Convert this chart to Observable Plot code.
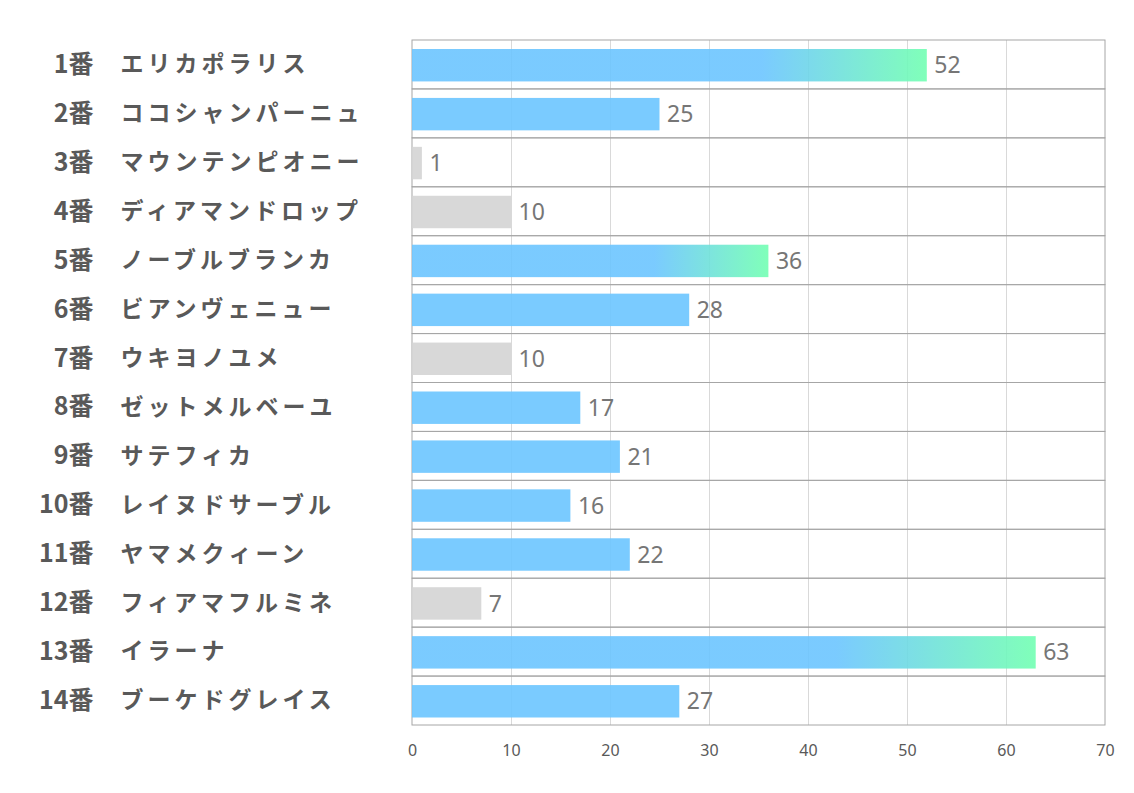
<!DOCTYPE html>
<html>
<head>
<meta charset="utf-8">
<script src="https://cdn.jsdelivr.net/npm/d3@7"></script>
<script src="https://cdn.jsdelivr.net/npm/@observablehq/plot@0.6"></script>
<style>
  html, body { margin: 0; padding: 0; background: #fff; }
</style>
</head>
<body>
<div id="chart"></div>
<script>
const numbers = ["1番","2番","3番","4番","5番","6番","7番","8番","9番","10番","11番","12番","13番","14番"];
const names = ["エリカポラリス","ココシャンパーニュ","マウンテンピオニー","ディアマンドロップ","ノーブルブランカ","ビアンヴェニュー","ウキヨノユメ","ゼットメルベーユ","サテフィカ","レイヌドサーブル","ヤマメクィーン","フィアマフルミネ","イラーナ","ブーケドグレイス"];
const values = [52, 25, 1, 10, 36, 28, 10, 17, 21, 16, 22, 7, 63, 27];
const xTicks = [0, 10, 20, 30, 40, 50, 60, 70];

const data = names.map((name, i) => ({num: numbers[i], name, value: values[i]}));
const top3 = [...values].sort((a, b) => b - a).slice(0, 3);
const rank = d => top3.includes(d.value) ? "top" : (d.value <= 10 ? "low" : "mid");
const topData = data.filter(d => rank(d) === "top");
const midData = data.filter(d => rank(d) === "mid");
const lowData = data.filter(d => rank(d) === "low");

const font = "'Noto Sans CJK JP', 'Noto Sans', sans-serif";
const hasAxisMark = typeof Plot.axisX === "function";

const marks = [
  Plot.ruleX(xTicks.slice(1, -1), {stroke: "#d9d9d9", strokeWidth: 1}),
  Plot.barX(data, {y: "name", x1: 0, x2: 70, fill: "none", stroke: "#a6a6a6", strokeWidth: 1}),
  Plot.barX(midData, {y: "name", x: "value", fill: "rgb(108,197,255)", fillOpacity: 0.9, insetTop: 9, insetBottom: 7.5}),
  Plot.barX(lowData, {y: "name", x: "value", fill: "#d4d4d4", fillOpacity: 0.9, insetTop: 9, insetBottom: 7.5}),
  Plot.barX(topData, {y: "name", x: "value", fill: "url(#topgrad)", fillOpacity: 0.9, insetTop: 9, insetBottom: 7.5}),
  Plot.text(data, {x: "value", y: "name", text: d => String(d.value), textAnchor: "start", dx: 7, dy: 1, fontSize: 23, fill: "#767676", fontFamily: "'Noto Sans', sans-serif"}),
  Plot.text(data, {y: "name", frameAnchor: "left", text: "num", textAnchor: "end", dx: -319, fontSize: 25, fontWeight: "bold", fill: "#595959", fontFamily: font}),
  Plot.text(data, {y: "name", frameAnchor: "left", text: "name", textAnchor: "start", dx: -292, fontSize: 23, fontWeight: "bold", fill: "#595959", fontFamily: font})
];
if (hasAxisMark) {
  marks.push(Plot.axisX({ticks: xTicks, tickSize: 0, tickPadding: 19, fontSize: 16, fill: "#595959", label: null, fontFamily: "'Noto Sans', sans-serif"}));
}

const chart = Plot.plot({
  width: 1134,
  height: 793,
  marginLeft: 412,
  marginRight: 29,
  marginTop: 40,
  marginBottom: 68,
  style: {fontFamily: "'Noto Sans', sans-serif", fontSize: "16px", color: "#595959", background: "#fff"},
  x: {domain: [0, 70], ticks: xTicks, tickSize: 0, tickPadding: 19, label: null},
  y: {domain: names, padding: 0, round: false, axis: null},
  marks
});

const svg = d3.select(chart);
const defs = svg.insert("defs", ":first-child");
const g = defs.append("linearGradient").attr("id", "topgrad")
  .attr("x1", "0").attr("x2", "1").attr("y1", "0").attr("y2", "0");
g.append("stop").attr("offset", "0.68").attr("stop-color", "rgb(108,197,255)");
g.append("stop").attr("offset", "1").attr("stop-color", "rgb(114,255,178)");
const textGroups = svg.selectAll('g[aria-label="text"]').nodes();
if (textGroups.length) {
  d3.select(textGroups[textGroups.length - 1]).selectAll("text").style("letter-spacing", "4px");
}
svg.selectAll('g[aria-label^="x-axis"]').attr("font-size", 16);
svg.selectAll('g[aria-label^="x-axis"] text').style("font-size", "16px");

document.getElementById("chart").appendChild(chart);
</script>
</body>
</html>
